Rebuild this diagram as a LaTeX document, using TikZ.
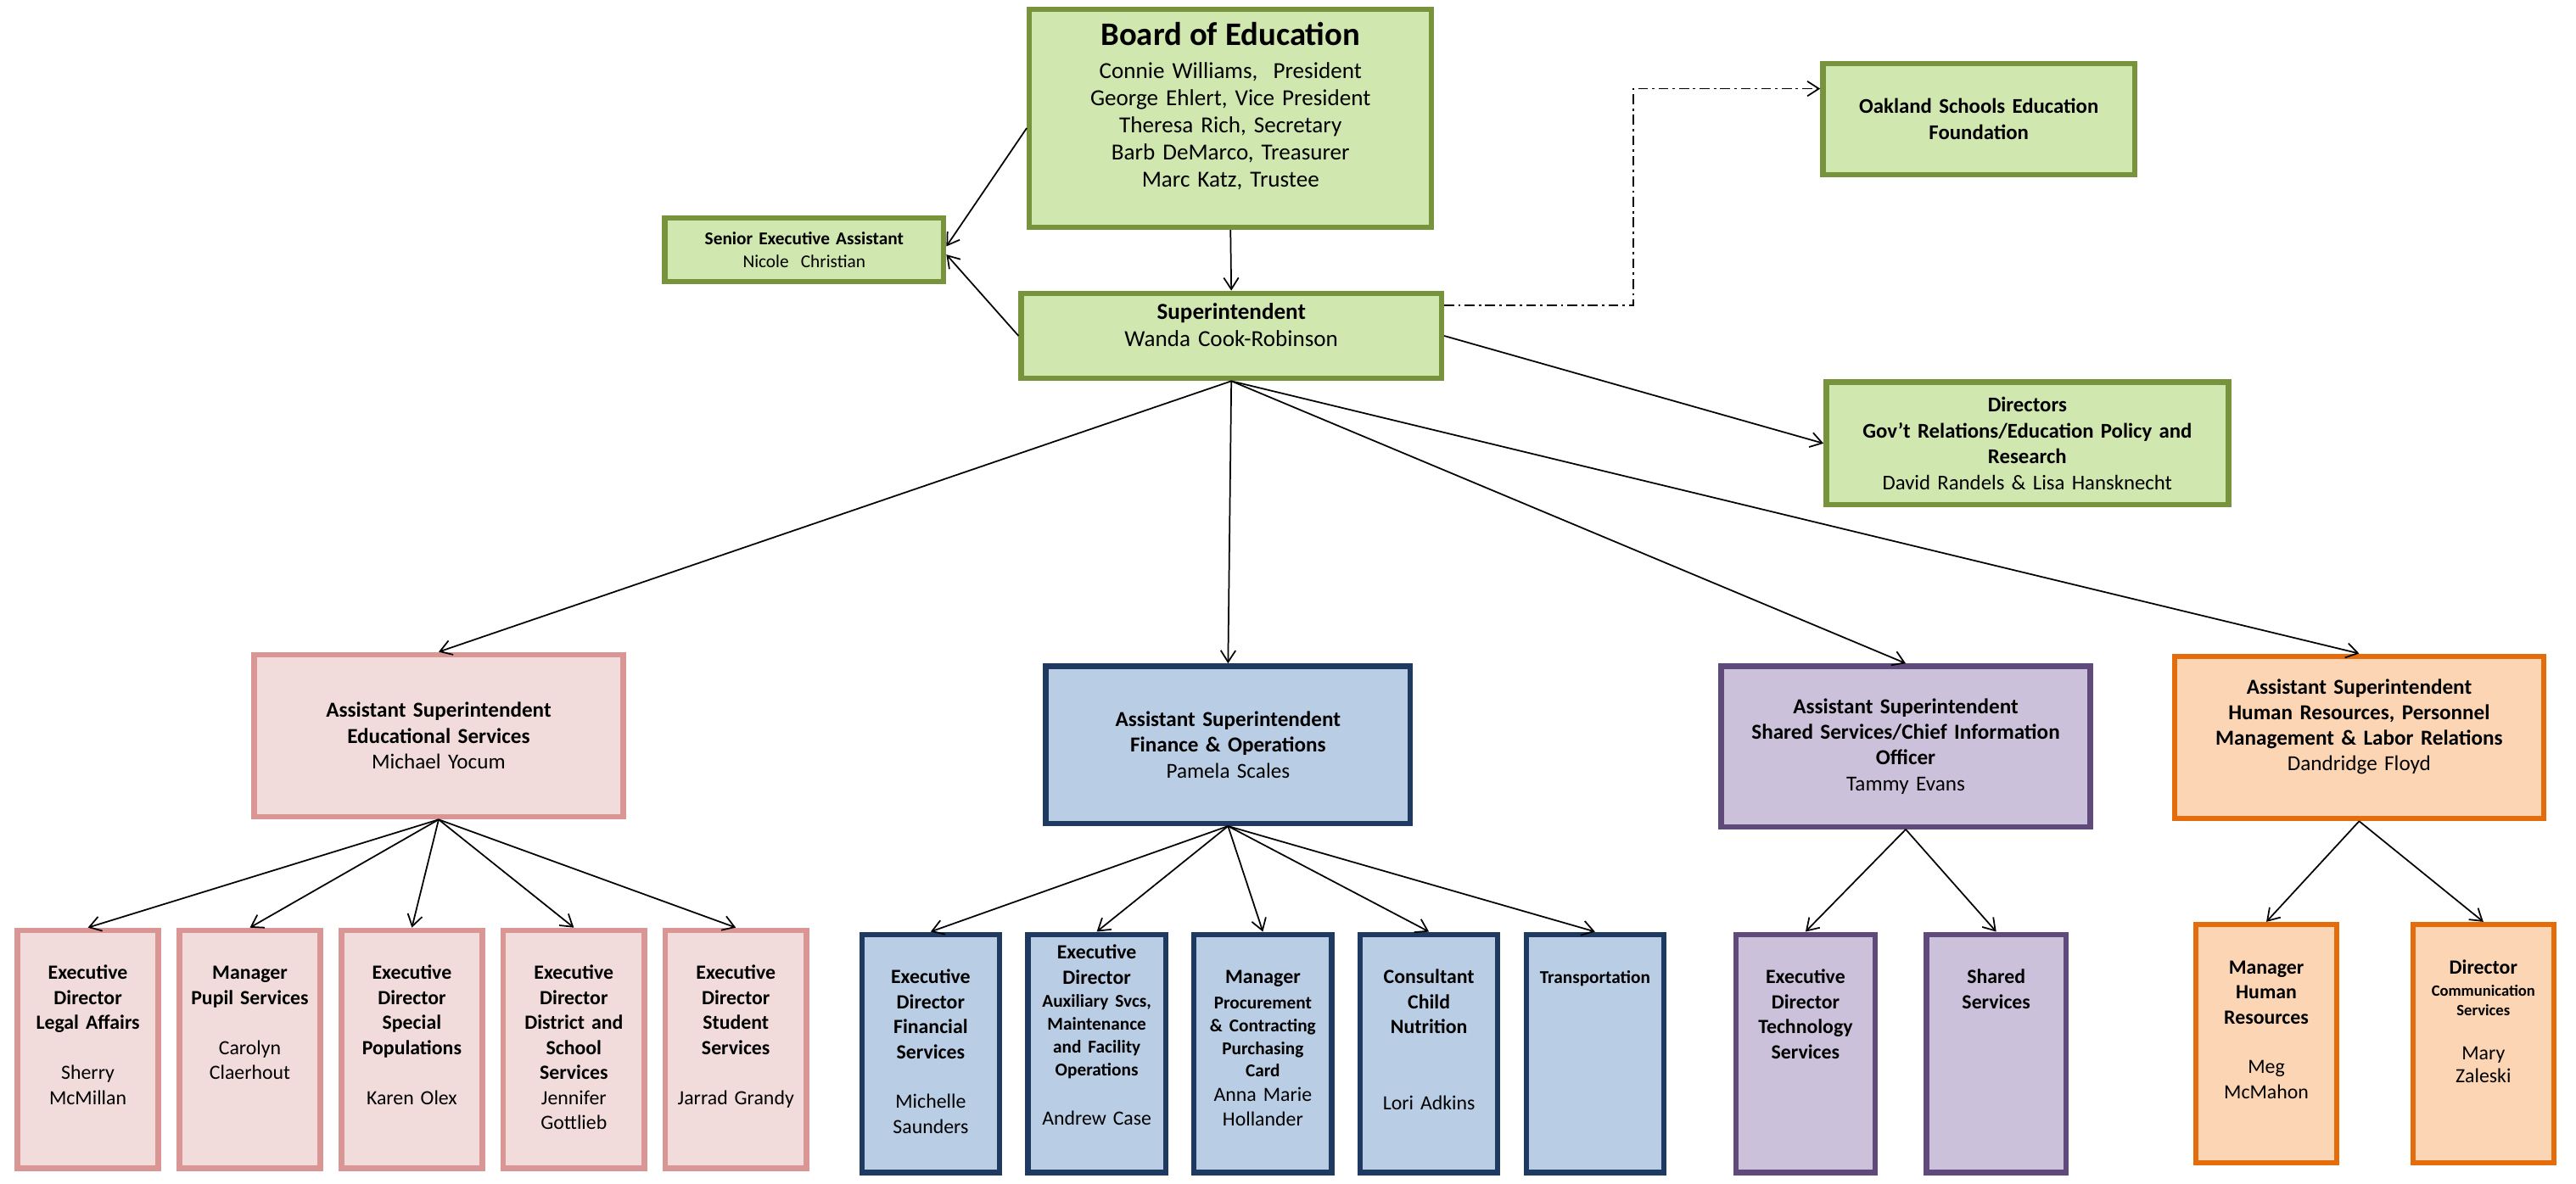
\documentclass[tikz,border=0pt]{standalone}
\usepackage{fontspec}
\setmainfont{Carlito}
\usepackage{tikz}
\usetikzlibrary{
        arrows.meta,
        positioning
    }
\definecolor{grnfill}{HTML}{D0E8B0}
\definecolor{grnline}{HTML}{77933C}
\definecolor{pnkfill}{HTML}{F2DCDB}
\definecolor{pnkline}{HTML}{D99694}
\definecolor{blufill}{HTML}{B9CDE5}
\definecolor{bluline}{HTML}{1F3A60}
\definecolor{prpfill}{HTML}{CCC1DA}
\definecolor{prpline}{HTML}{604A7B}
\definecolor{orgfill}{HTML}{FCD5B5}
\definecolor{orgline}{HTML}{E46C0A}
\newcommand{\orgtitle}{\fontsize{20}{24}\selectfont\bfseries}
\newcommand{\orgname}{\fontsize{14}{16.6}\selectfont}
\newcommand{\orgside}{\fontsize{12.8}{15.8}\selectfont}
\newcommand{\orghead}{\fontsize{13}{15.6}\selectfont\bfseries}
\newcommand{\orglow}{\fontsize{12.3}{15.2}\selectfont\bfseries}
\newcommand{\orgsmall}{\fontsize{11}{13.8}\selectfont}
\newcommand{\orgtiny}{\fontsize{9.6}{12}\selectfont}
\tikzset{>={Straight Barb[length=7pt,width=9pt]},auto}
\tikzset{
  box/.style={draw,line width=3.3pt,inner sep=0pt,align=center},
  grnbox/.style={box,draw=grnline,fill=grnfill},
  pnkbox/.style={box,draw=pnkline,fill=pnkfill},
  blubox/.style={box,draw=bluline,fill=blufill},
  prpbox/.style={box,draw=prpline,fill=prpfill},
  orgbox/.style={box,draw=orgline,fill=orgfill},
  headbox/.style={font=\orghead,minimum height=98.8pt,text width=224.8pt},
  lowbox/.style={text width=#1,text height=30pt,text depth=115pt,font=\orglow},
  linkline/.style={dash pattern=on 6pt off 2.5pt on 1.5pt off 2.5pt}
}

\begin{document}
\begin{tikzpicture}[x=1pt,y=-1pt,line width=0.9pt]
\useasboundingbox (0,0) rectangle (1568,720.5);
                % board and superintendent
                \node[grnbox,text width=244.8pt,text height=22pt,text depth=110.8pt,font=\orgname] (board) at (749,72)
                    {{\orgtitle Board of Education}\\[3.5pt]Connie Williams,~ President\\George Ehlert, Vice President\\Theresa Rich, Secretary\\Barb DeMarco, Treasurer\\Marc Katz, Trustee};
                \node[grnbox,text width=169.8pt,minimum height=38.8pt,font=\fontsize{11}{14}\selectfont] (sea) at (489.5,152)
                    {\textbf{Senior Executive Assistant}\\Nicole~ Christian};
                \node[grnbox,text width=255.8pt,text height=16pt,text depth=35.8pt,font=\orgname] (supt) at (749.5,204.5)
                    {\textbf{Superintendent}\\Wanda Cook-Robinson};
                \node[grnbox,text width=189.8pt,minimum height=67.8pt,font=\orgside\bfseries] (oak) at (1204.5,72.5)
                    {Oakland Schools Education\\Foundation};
                \node[grnbox,text width=244.8pt,minimum height=74.8pt,font=\orgside\bfseries] (dirs) at (1234,270)
                    {Directors\\Gov't Relations/Education Policy and\\Research\\\mdseries David Randels \& Lisa Hansknecht};
                \coordinate (fold) at (994,54);

                % assistant superintendents
                \node[pnkbox,headbox] (eds) at (267,448)
                    {Assistant Superintendent\\Educational Services\\\mdseries Michael Yocum};
                \node[blubox,headbox,minimum height=95.8pt,text width=221.8pt] (fin) at (747.5,453.5)
                    {Assistant Superintendent\\Finance \& Operations\\\mdseries Pamela Scales};
                \node[prpbox,headbox,minimum height=97.8pt] (ssv) at (1160,454.5)
                    {Assistant Superintendent\\Shared Services/Chief Information\\Officer\\\mdseries Tammy Evans};
                \node[orgbox,headbox,minimum height=0pt,text height=23pt,text depth=75.8pt] (hr) at (1436,449)
                    {Assistant Superintendent\\Human Resources, Personnel\\Management \& Labor Relations\\\mdseries Dandridge Floyd};

                % educational services
                \node[pnkbox,lowbox=85.8pt] (legal) at (53.5,639)
                    {Executive\\Director\\Legal Affairs\\[15.2pt]\mdseries Sherry\\McMillan};
                \node[pnkbox,lowbox=85.8pt] (pupil) [right=9.5pt of legal]
                    {Manager\\Pupil Services\\[15.2pt]\mdseries Carolyn\\Claerhout};
                \node[pnkbox,lowbox=85.8pt] (spec) [right=9.5pt of pupil]
                    {Executive\\Director\\Special\\Populations\\[15.2pt]\mdseries Karen Olex};
                \node[pnkbox,lowbox=85.8pt] (dist) [right=9.5pt of spec]
                    {Executive\\Director\\District and\\School\\Services\\\mdseries Jennifer\\Gottlieb};
                \node[pnkbox,lowbox=85.8pt] (stud) [right=9.5pt of dist]
                    {Executive\\Director\\Student\\Services\\[15.2pt]\mdseries Jarrad Grandy};

                % finance and operations
                \node[blubox,lowbox=83.8pt] (finsv) at (566.5,641.5)
                    {Executive\\Director\\Financial\\Services\\[15.2pt]\mdseries Michelle\\Saunders};
                \node[blubox,lowbox=83.8pt,text height=15pt,text depth=130pt] (aux) [right=14pt of finsv]
                    {Executive\\Director\\[0.5pt]{\orgsmall Auxiliary Svcs,\\Maintenance\\and Facility\\Operations\\}\mdseries\vskip15.2pt Andrew Case};
                \node[blubox,lowbox=83.8pt] (proc) [right=14pt of aux]
                    {Manager\\[1.6pt]{\orgsmall Procurement\\\& Contracting\\Purchasing\\Card\\}\vskip-0.5pt\mdseries Anna Marie\\Hollander};
                \node[blubox,lowbox=83.8pt] (nutr) [right=14pt of proc]
                    {Consultant\\Child\\Nutrition\\[31pt]\mdseries Lori Adkins};
                \node[blubox,lowbox=83.8pt] (trans) [right=14pt of nutr]
                    {\orgsmall Transportation};

                % shared services
                \node[prpbox,lowbox=84.8pt] (tech) at (1099,641.5)
                    {Executive\\Director\\Technology\\Services};
                \node[prpbox,lowbox=84.8pt] (shsv) [right=28pt of tech]
                    {Shared\\Services};

                % human resources
                \node[orgbox,lowbox=85.8pt] (hrmgr) at (1379.5,635.5)
                    {Manager\\Human\\Resources\\[15.2pt]\mdseries Meg\\McMahon};
                \node[orgbox,lowbox=85.8pt] (comm) [right=43pt of hrmgr]
                    {Director\\[1.6pt]{\orgtiny Communication\\[-3.1pt]Services}\\[11.4pt]\mdseries Mary\\[-1.2pt]Zaleski};

            \path[->]
                    (board.south) edge (supt.north)
                    ([yshift=-6pt]board.west) edge ([yshift=2pt]sea.east)
                    (supt.west) edge ([yshift=-3pt]sea.east)
                    (supt.east) edge (dirs.west)
                    (supt.south) edge (eds.north) edge (fin.north) edge (ssv.north) edge (hr.north)
                    (eds.south) edge (legal.north) edge (pupil.north) edge (spec.north) edge (dist.north) edge (stud.north)
                    (fin.south) edge (finsv.north) edge (aux.north) edge (proc.north) edge (nutr.north) edge (trans.north)
                    (ssv.south) edge (tech.north) edge (shsv.north)
                    (hr.south) edge (hrmgr.north) edge (comm.north);
            \draw[->,linkline] ([yshift=18.5pt]supt.east) -| (fold) -- (oak.west |- fold);
\end{tikzpicture}
\end{document}
